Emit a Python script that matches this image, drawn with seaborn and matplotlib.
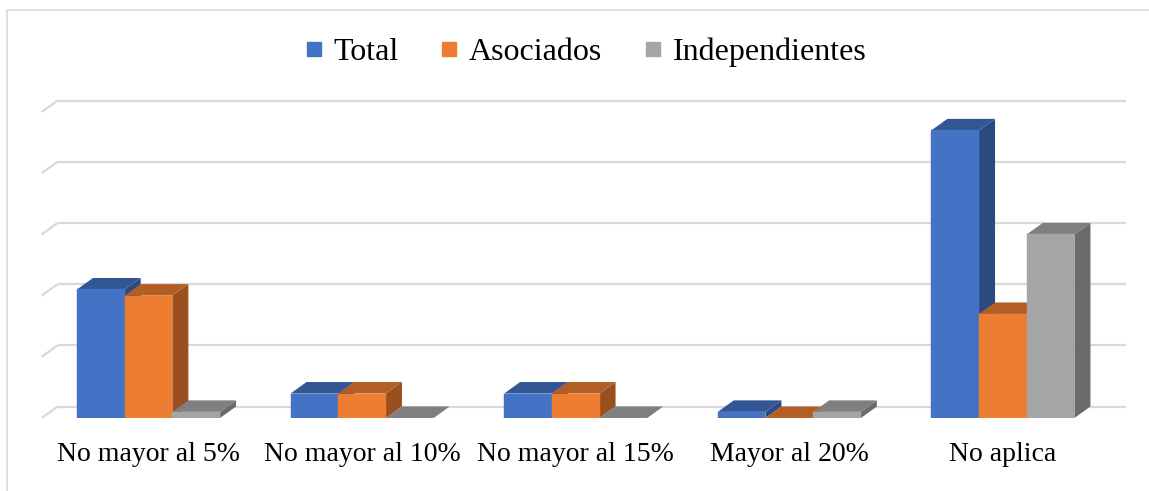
import matplotlib
matplotlib.use("Agg")
import matplotlib.pyplot as plt
import seaborn as sns
import pandas as pd
import numpy as np
from matplotlib.patches import Polygon, Rectangle
from matplotlib.lines import Line2D

# ---------------- data ----------------
categories = ["No mayor al 5%", "No mayor al 10%", "No mayor al 15%", "Mayor al 20%", "No aplica"]
series = ["Total", "Asociados", "Independientes"]
total = [21, 4, 4, 1, 47]
asociados = [20, 4, 4, 0, 17]
independientes = [1, 0, 0, 1, 30]
y_ticks = [0, 10, 20, 30, 40, 50]

front_colors = ["#4472C4", "#ED7D31", "#A5A5A5"]
top_colors = ["#335795", "#B35E24", "#7F7F7F"]
side_colors = ["#2A4A80", "#9A4F1E", "#6B6B6B"]
grid_color = "#D9D9D9"

# ---------------- style ----------------
sns.set_theme(style="white")
plt.rcParams["font.family"] = ["Liberation Serif", "DejaVu Serif"]
plt.rcParams["text.color"] = "black"

W_PX, H_PX = 1149, 491
fig = plt.figure(figsize=(W_PX / 100, H_PX / 100), dpi=100)
fig.patch.set_facecolor("white")

ax_left, ax_right = 41.7, 1109.7
ax_bottom, ax_top = 418.0, 112.0
ax = fig.add_axes([ax_left / W_PX, 1 - ax_bottom / H_PX,
                   (ax_right - ax_left) / W_PX, (ax_bottom - ax_top) / H_PX])
ax.set_facecolor("none")

df = pd.DataFrame({
    "categoria": categories * 3,
    "serie": [s for s in series for _ in categories],
    "valor": total + asociados + independientes,
})

sns.barplot(data=df, x="categoria", y="valor", hue="serie", order=categories,
            hue_order=series, palette=front_colors, saturation=1, width=0.67,
            errorbar=None, legend=False, ax=ax)

ax.set_xlim(-0.5, 4.5)
ax.set_ylim(0, 50)
ax.set_yticks(y_ticks)
ax.set_yticklabels([])
ax.set_xlabel("")
ax.set_ylabel("")
ax.grid(False)
for sp in ax.spines.values():
    sp.set_visible(False)
ax.tick_params(axis="both", length=0)
ax.tick_params(axis="x", labelsize=20, pad=17, labelcolor="black")

# depth offset in pixels converted to data units
DX_PX, DY_PX = 16.0, 11.5
p0 = ax.transData.transform((0, 0))
p1 = ax.transData.transform((1, 1))
ddx = DX_PX / (p1[0] - p0[0])
ddy = DY_PX / (p1[1] - p0[1])

# back-wall gridlines with floor diagonal
x_lo, x_hi = ax.get_xlim()
for v in y_ticks:
    ax.plot([x_lo + ddx, x_hi + ddx], [v + ddy, v + ddy], color=grid_color,
            lw=1.6, zorder=0.5, clip_on=False, solid_capstyle="butt")
    ax.plot([x_lo, x_lo + ddx], [v, v + ddy], color=grid_color,
            lw=1.6, zorder=0.5, clip_on=False, solid_capstyle="butt")

# 3D faces
for k, container in enumerate(ax.containers):
    for patch in container:
        x0 = patch.get_x()
        w = patch.get_width()
        y0 = patch.get_y()
        y1 = y0 + patch.get_height()
        patch.set_zorder(3 + 2 * k)
        patch.set_edgecolor(front_colors[k])
        patch.set_linewidth(0.3)
        top = Polygon([(x0, y1), (x0 + w, y1), (x0 + w + ddx, y1 + ddy), (x0 + ddx, y1 + ddy)],
                      closed=True, facecolor=top_colors[k], edgecolor="none",
                      zorder=2 + 2 * k, clip_on=False)
        side = Polygon([(x0 + w, y0), (x0 + w + ddx, y0 + ddy), (x0 + w + ddx, y1 + ddy), (x0 + w, y1)],
                       closed=True, facecolor=side_colors[k], edgecolor="none",
                       zorder=2 + 2 * k, clip_on=False)
        ax.add_patch(side)
        ax.add_patch(top)

# legend
handles = [Line2D([], [], marker="s", linestyle="", color=c, markersize=10) for c in front_colors]
fig.legend(handles, series, loc="center", bbox_to_anchor=(586.5 / W_PX, 1 - 52 / H_PX),
           ncol=3, frameon=False, fontsize=23, handlelength=0.45, handletextpad=0.4,
           columnspacing=1.35, borderaxespad=0, borderpad=0, labelcolor="black")

# chart-area border (only left and top edges visible)
fig.add_artist(Rectangle((7 / W_PX, -0.2), 1.0, 1.2 - 10 / H_PX, transform=fig.transFigure,
                         fill=False, edgecolor=grid_color, lw=1.2))

fig.savefig("out.png", dpi=100, facecolor="white")
